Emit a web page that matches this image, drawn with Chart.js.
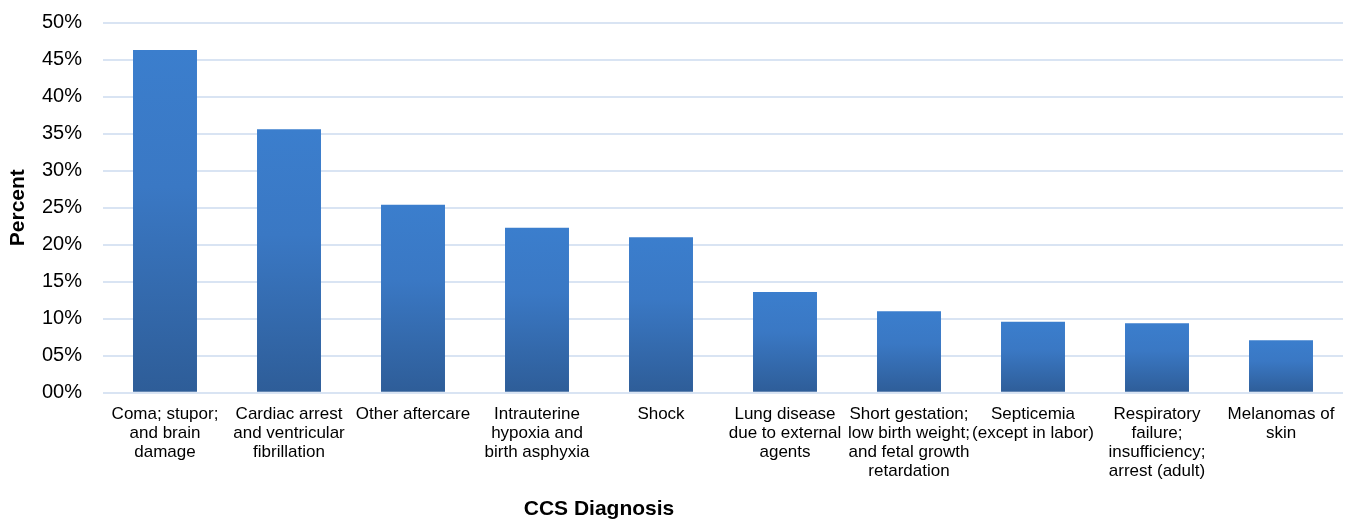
<!DOCTYPE html>
<html>
<head>
<meta charset="utf-8">
<script src="https://cdn.jsdelivr.net/npm/chart.js@4/dist/chart.umd.min.js"></script>
<style>
  html, body { margin: 0; padding: 0; background: #ffffff; }
  #wrap { position: relative; width: 1354px; height: 519px; }
</style>
</head>
<body>
<div id="wrap"><canvas id="c" width="1354" height="519"></canvas></div>
<script>
const categories = [
  ["Coma; stupor;", "and brain", "damage"],
  ["Cardiac arrest", "and ventricular", "fibrillation"],
  ["Other aftercare"],
  ["Intrauterine", "hypoxia and", "birth asphyxia"],
  ["Shock"],
  ["Lung disease", "due to external", "agents"],
  ["Short gestation;", "low birth weight;", "and fetal growth", "retardation"],
  ["Septicemia", "(except in labor)"],
  ["Respiratory", "failure;", "insufficiency;", "arrest (adult)"],
  ["Melanomas of", "skin"]
];
const percentValues = [46.3, 35.6, 25.4, 22.3, 21.0, 13.6, 11.0, 9.6, 9.4, 7.1];
const yAxisTitle = "Percent";
const xAxisTitle = "CCS Diagnosis";

const FONT = "'Liberation Sans', Arial, sans-serif";

function barGradient(context) {
  const chart = context.chart;
  const yScale = chart.scales.y;
  if (!yScale || !chart.chartArea) return '#3b7dcc';
  const v = context.raw;
  const top = yScale.getPixelForValue(v);
  const base = yScale.getPixelForValue(0);
  if (!isFinite(top) || !isFinite(base) || top === base) return '#3b7dcc';
  const g = chart.ctx.createLinearGradient(0, top, 0, base);
  g.addColorStop(0, '#3b7ecd');
  g.addColorStop(0.4, '#3a78c4');
  g.addColorStop(1, '#2e5d98');
  return g;
}

const xTitlePlugin = {
  id: 'xTitlePlugin',
  afterDraw(chart) {
    const ctx = chart.ctx;
    ctx.save();
    ctx.font = "bold 21px " + FONT;
    ctx.fillStyle = '#000000';
    ctx.textAlign = 'center';
    ctx.textBaseline = 'middle';
    ctx.fillText(xAxisTitle, 599, 509);
    ctx.restore();
  }
};

new Chart(document.getElementById('c'), {
  type: 'bar',
  data: {
    labels: categories,
    datasets: [{
      data: percentValues,
      backgroundColor: barGradient,
      borderWidth: 0,
      barPercentage: 0.516,
      categoryPercentage: 1.0
    }]
  },
  options: {
    responsive: false,
    animation: false,
    devicePixelRatio: 1,
    layout: { padding: { left: 0, right: 11, top: 22.7, bottom: 0 } },
    plugins: {
      legend: { display: false },
      tooltip: { enabled: false },
      title: { display: false }
    },
    scales: {
      x: {
        grid: { display: false, drawTicks: false },
        border: { display: false },
        ticks: {
          autoSkip: false,
          maxRotation: 0,
          minRotation: 0,
          padding: 12,
          color: '#000000',
          font: { family: FONT, size: 17, lineHeight: 1.118 }
        },
        afterFit(scale) { scale.height = 126.3; }
      },
      y: {
        min: 0,
        max: 50,
        ticks: {
          stepSize: 5,
          padding: 21,
          color: '#000000',
          font: { family: FONT, size: 20 },
          callback: (v) => (v < 10 ? '0' : '') + v + '%'
        },
        grid: { color: '#d9e4f3', lineWidth: 2, drawTicks: false },
        border: { display: false },
        title: {
          display: true,
          text: yAxisTitle,
          color: '#000000',
          font: { family: FONT, size: 21, weight: 'bold' },
          padding: { top: 6, bottom: 0 }
        },
        afterFit(scale) {
          scale.width = 103;
          scale.paddingTop = 0;
          scale.paddingBottom = 0;
        }
      }
    }
  },
  plugins: [xTitlePlugin]
});
</script>
</body>
</html>
